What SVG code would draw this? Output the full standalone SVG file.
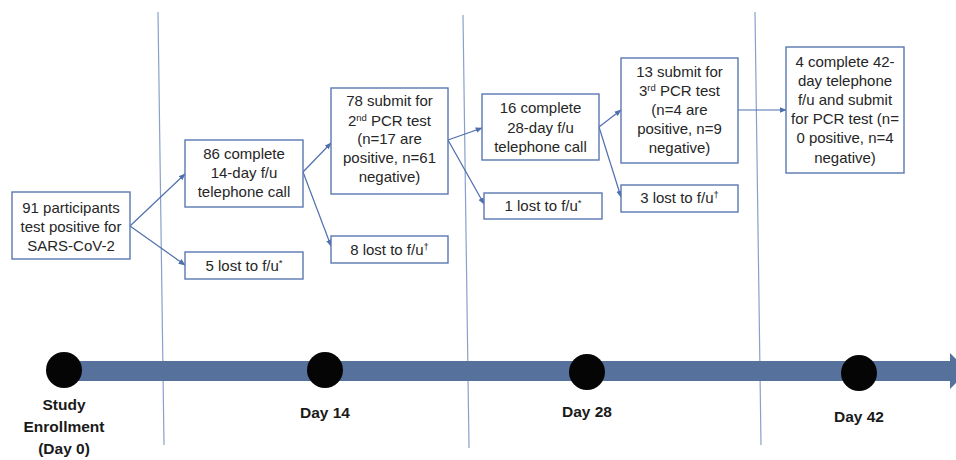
<svg xmlns="http://www.w3.org/2000/svg" width="956" height="460" viewBox="0 0 956 460">
<defs>
<style>
.box{fill:#fff;stroke:#5b78b3;stroke-width:1.4}
.t{font-family:"Liberation Sans",Arial,sans-serif;font-size:15px;fill:#262626;text-anchor:middle}
.lbl{font-family:"Liberation Sans",Arial,sans-serif;font-size:15.5px;font-weight:bold;fill:#1a1a1a;text-anchor:middle}
.sep{stroke:#8aa0cc;stroke-width:1.2;fill:none}
.con{stroke:#4f6fad;stroke-width:1.2;fill:none;marker-end:url(#ah)}
.sup{font-size:9.5px;fill:#262626}
.dot{fill:#050505}
</style>
<marker id="ah" viewBox="0 0 10 10" refX="9" refY="5" markerWidth="7" markerHeight="7" markerUnits="userSpaceOnUse" orient="auto">
<path d="M0,1 L10,5 L0,9 z" fill="#4f6fad"/>
</marker>
</defs>
<rect width="956" height="460" fill="#fff"/>
<g id="separators">
<line class="sep" x1="158" y1="12" x2="164" y2="445"/>
<line class="sep" x1="463" y1="15" x2="469" y2="448"/>
<line class="sep" x1="755" y1="12" x2="761" y2="445"/>
</g>
<g id="timeline">
<path d="M64,361 L950,361 L950,353 L968,371 L950,389 L950,381 L64,381 z" fill="#56719c"/>
</g>
<g id="connectors">
<line class="con" x1="130" y1="226" x2="185" y2="174"/>
<line class="con" x1="130" y1="226" x2="185" y2="265"/>
<line class="con" x1="303" y1="172" x2="331" y2="143"/>
<line class="con" x1="303" y1="172" x2="331" y2="246"/>
<line class="con" x1="448" y1="140" x2="482" y2="128"/>
<line class="con" x1="448" y1="140" x2="484" y2="204"/>
<line class="con" x1="599" y1="127" x2="621" y2="110"/>
<line class="con" x1="599" y1="127" x2="621" y2="197"/>
<line class="con" x1="738" y1="110" x2="786" y2="110"/>
</g>
<g id="n91">
<rect class="box" x="12" y="192" width="118" height="67"/>
<text class="t" x="71" y="213">91 participants</text>
<text class="t" x="71" y="232">test positive for</text>
<text class="t" x="71" y="251">SARS-CoV-2</text>
</g>
<g id="n86">
<rect class="box" x="185" y="140" width="118" height="67"/>
<text class="t" x="244" y="159">86 complete</text>
<text class="t" x="244" y="178">14-day f/u</text>
<text class="t" x="244" y="197">telephone call</text>
</g>
<g id="n5">
<rect class="box" x="185" y="252" width="118" height="27"/>
<text class="t" x="244" y="271">5 lost to f/u<tspan class="sup" dy="-5">*</tspan></text>
</g>
<g id="n78">
<rect class="box" x="331" y="88" width="117" height="106"/>
<text class="t" x="389.5" y="106">78 submit for</text>
<text class="t" x="389.5" y="126">2<tspan class="sup" dy="-5">nd</tspan><tspan dy="5"> PCR test</tspan></text>
<text class="t" x="389.5" y="144">(n=17 are</text>
<text class="t" x="389.5" y="163">positive, n=61</text>
<text class="t" x="389.5" y="182">negative)</text>
</g>
<g id="n8">
<rect class="box" x="331" y="236" width="117" height="27"/>
<text class="t" x="389.5" y="255">8 lost to f/u<tspan class="sup" dy="-5">†</tspan></text>
</g>
<g id="n16">
<rect class="box" x="482" y="94" width="117" height="66"/>
<text class="t" x="540.5" y="113">16 complete</text>
<text class="t" x="540.5" y="133">28-day f/u</text>
<text class="t" x="540.5" y="152">telephone call</text>
</g>
<g id="n1">
<rect class="box" x="484" y="193" width="118" height="26"/>
<text class="t" x="543" y="211">1 lost to f/u<tspan class="sup" dy="-5">*</tspan></text>
</g>
<g id="n13">
<rect class="box" x="621" y="58" width="117" height="105"/>
<text class="t" x="679.5" y="77">13 submit for</text>
<text class="t" x="679.5" y="96">3<tspan class="sup" dy="-5">rd</tspan><tspan dy="5"> PCR test</tspan></text>
<text class="t" x="679.5" y="115">(n=4 are</text>
<text class="t" x="679.5" y="134">positive, n=9</text>
<text class="t" x="679.5" y="153">negative)</text>
</g>
<g id="n3">
<rect class="box" x="621" y="185" width="117" height="27"/>
<text class="t" x="679.5" y="203">3 lost to f/u<tspan class="sup" dy="-5">†</tspan></text>
</g>
<g id="n4">
<rect class="box" x="786" y="47" width="118" height="126"/>
<text class="t" x="845" y="67">4 complete 42-</text>
<text class="t" x="845" y="86">day telephone</text>
<text class="t" x="845" y="105">f/u and submit</text>
<text class="t" x="845" y="124">for PCR test (n=</text>
<text class="t" x="845" y="143">0 positive, n=4</text>
<text class="t" x="845" y="163">negative)</text>
</g>
<g id="day0">
<circle class="dot" cx="64" cy="370" r="18"/>
<text class="lbl" x="64" y="410">Study</text>
<text class="lbl" x="64" y="432">Enrollment</text>
<text class="lbl" x="64" y="454">(Day 0)</text>
</g>
<g id="day14">
<circle class="dot" cx="325" cy="370" r="18"/>
<text class="lbl" x="325" y="418">Day 14</text>
</g>
<g id="day28">
<circle class="dot" cx="587" cy="372" r="18"/>
<text class="lbl" x="587" y="417">Day 28</text>
</g>
<g id="day42">
<circle class="dot" cx="859" cy="373" r="18"/>
<text class="lbl" x="859" y="422">Day 42</text>
</g>
</svg>
